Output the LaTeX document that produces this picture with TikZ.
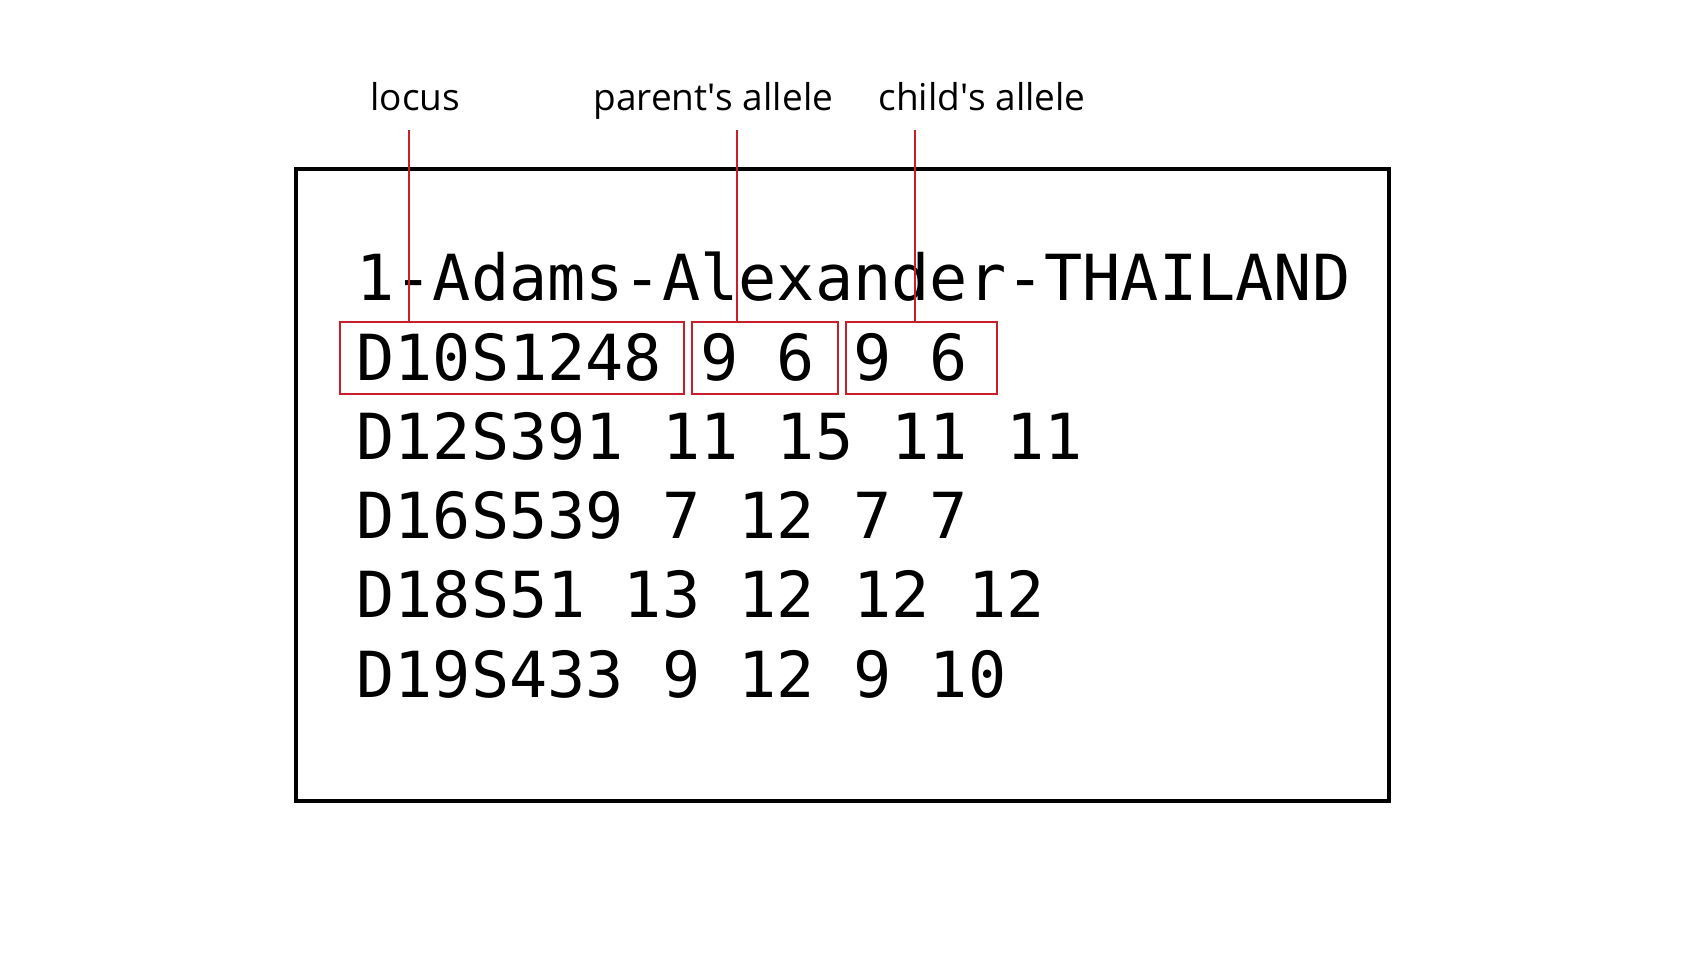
\documentclass[tikz,border=0pt]{standalone}
\usepackage{fontspec}
\setmainfont{Open Sans}
\setmonofont{DejaVu Sans Mono}
\usetikzlibrary{positioning}
\definecolor{markred}{RGB}{200,30,42}

\begin{document}
\begin{tikzpicture}[x=0.5pt, y=0.5pt,
    lbl/.style={anchor=base west, inner sep=0pt, font=\fontsize{18.5}{20}\selectfont},
    row/.style={anchor=base west, inner sep=0pt, font=\ttfamily\fontsize{31.75}{34}\selectfont},
    markbox/.style={draw=markred, line width=1.2pt, inner sep=0pt, outer sep=0pt, minimum height=36pt},
    markline/.style={draw=markred, line width=1.4pt}]
      \useasboundingbox (0,0) rectangle (1685,971);
      \node[draw, line width=1.7pt, inner sep=0pt, minimum width=546.5pt, minimum height=316pt] (frame) at (842.5,486) {};

      \node[row] (title) at (356,670) {1-Adams-Alexander-THAILAND};
      \node[row, below=39.6pt of title.base west, anchor=base west] (r1) {D10S1248 9 6 9 6};
      \node[row, below=39.6pt of r1.base west, anchor=base west] (r2) {D12S391 11 15 11 11};
      \node[row, below=39.6pt of r2.base west, anchor=base west] (r3) {D16S539 7 12 7 7};
      \node[row, below=39.6pt of r3.base west, anchor=base west] (r4) {D18S51 13 12 12 12};
      \node[row, below=39.6pt of r4.base west, anchor=base west] (r5) {D19S433 9 12 9 10};

      \node[markbox, minimum width=172pt] (locusbox) at (512,613) {};
      \node[markbox, minimum width=73pt] (parentbox) [right=4pt of locusbox] {};
      \node[markbox, minimum width=75.5pt] (childbox) [right=4pt of parentbox] {};

      \node[lbl] (locuslbl) at (370,860) {locus};
      \node[lbl] (parentlbl) at (593,860) {parent\textquotesingle s allele};
      \node[lbl] (childlbl) at (878,860) {child\textquotesingle s allele};

      \coordinate (locustop) at (409,841);
      \coordinate (parenttop) at (737,841);
      \coordinate (childtop) at (915,841);
      \draw[markline] (locustop) -- (locustop |- locusbox.north);
      \draw[markline] (parenttop) -- (parenttop |- parentbox.north);
      \draw[markline] (childtop) -- (childtop |- childbox.north);
    \end{tikzpicture}
\end{document}
